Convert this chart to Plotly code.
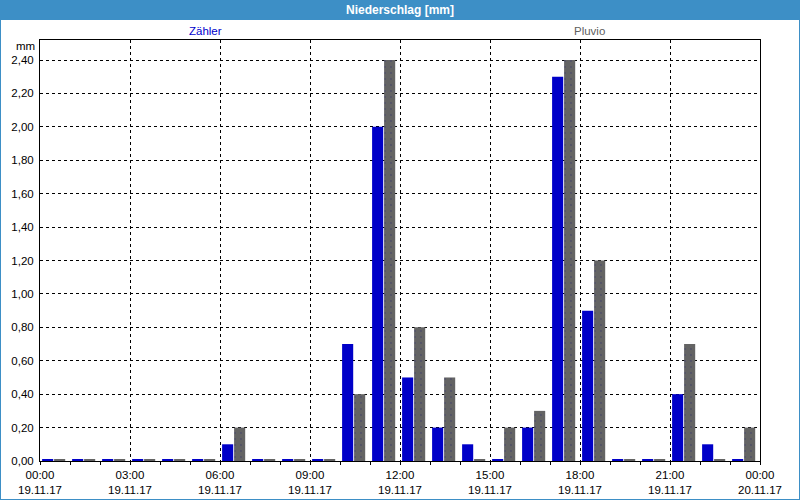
import plotly.graph_objects as go

# Hourly bins starting at 00:00 on 19.11.17
hours = list(range(24))
zaehler = [0.01, 0.01, 0.01, 0.01, 0.01, 0.01, 0.10, 0.01, 0.01, 0.01, 0.70, 2.00,
           0.50, 0.20, 0.10, 0.01, 0.20, 2.30, 0.90, 0.01, 0.01, 0.40, 0.10, 0.01]
pluvio = [0.01, 0.01, 0.01, 0.01, 0.01, 0.01, 0.20, 0.01, 0.01, 0.01, 0.40, 2.40,
          0.80, 0.50, 0.01, 0.20, 0.30, 2.40, 1.20, 0.01, 0.01, 0.70, 0.01, 0.20]

tick_vals = [0, 3, 6, 9, 12, 15, 18, 21, 24]
tick_text = ["00:00<br>19.11.17", "03:00<br>19.11.17", "06:00<br>19.11.17",
             "09:00<br>19.11.17", "12:00<br>19.11.17", "15:00<br>19.11.17",
             "18:00<br>19.11.17", "21:00<br>19.11.17", "00:00<br>20.11.17"]

FONT = "Liberation Sans"
FS = 11.5
BLUE_FRAME = "#3d8fc6"

fig = go.Figure()
fig.add_trace(go.Bar(
    x=hours, y=zaehler, name="Zähler",
    offset=0.07, width=0.37,
    marker=dict(color="#0000c8", line=dict(width=0)),
))
fig.add_trace(go.Bar(
    x=hours, y=pluvio, name="Pluvio",
    offset=0.47, width=0.37,
    marker=dict(color="#646464", line=dict(width=0),
                pattern=dict(shape=".", fgcolor="#3a3a6a", bgcolor="#646464",
                             size=6, solidity=0.08)),
))

# pixel -> paper helpers for decorations
L, R, T, B = 40, 760, 40, 461
def px(xp):
    return (xp - L) / (R - L)
def py(yp):
    return (B - yp) / (B - T)

fig.update_layout(
    width=800, height=500,
    margin=dict(l=L, r=800 - R, t=T, b=500 - B, pad=0, autoexpand=False),
    barmode="overlay",
    showlegend=False,
    separators=",.",
    paper_bgcolor=BLUE_FRAME,
    plot_bgcolor="white",
    font=dict(family=FONT, size=FS, color="black"),
    title=dict(text="<b>Niederschlag [mm]</b>", x=0.5, xanchor="center",
               y=1 - 10 / 500, yanchor="middle", yref="container",
               font=dict(family=FONT, size=12, color="white")),
    xaxis=dict(
        range=[0, 24], tickvals=tick_vals, ticktext=tick_text, automargin=False,
        showgrid=True, gridcolor="black", griddash="3px,3px", gridwidth=1,
        showline=True, linecolor="black", linewidth=1, mirror=True,
        ticks="outside", ticklen=3, tickcolor="black",
        minor=dict(dtick=1, tick0=0, ticks="outside", ticklen=3, tickcolor="black", showgrid=False),
        zeroline=False, fixedrange=True,
    ),
    yaxis=dict(
        range=[0, 2.52], dtick=0.2, tick0=0, tickformat=".2f", automargin=False,
        showgrid=True, gridcolor="black", griddash="3px,3px", gridwidth=1,
        showline=True, linecolor="black", linewidth=1, mirror=True,
        ticks="", ticklabelstandoff=3,
        zeroline=False, fixedrange=True,
    ),
    shapes=[
        dict(type="rect", xref="paper", yref="paper", layer="below",
             x0=px(1), x1=px(799), y0=py(499), y1=py(20),
             fillcolor="white", line=dict(width=0)),
    ],
    annotations=[
        dict(text="Zähler", xref="paper", yref="paper", x=px(205), y=py(31),
             xanchor="center", yanchor="middle", showarrow=False,
             font=dict(family=FONT, size=FS, color="#0000cc")),
        dict(text="Pluvio", xref="paper", yref="paper", x=px(589), y=py(31),
             xanchor="center", yanchor="middle", showarrow=False,
             font=dict(family=FONT, size=FS, color="#606060")),
        dict(text="mm", xref="paper", yref="paper", x=px(37), y=py(46),
             xanchor="right", yanchor="middle", showarrow=False,
             font=dict(family=FONT, size=FS, color="black")),
    ],
)

fig.write_html("out.html", config={"displayModeBar": False},
               post_script="document.body.style.margin='0';document.body.style.padding='0';")
